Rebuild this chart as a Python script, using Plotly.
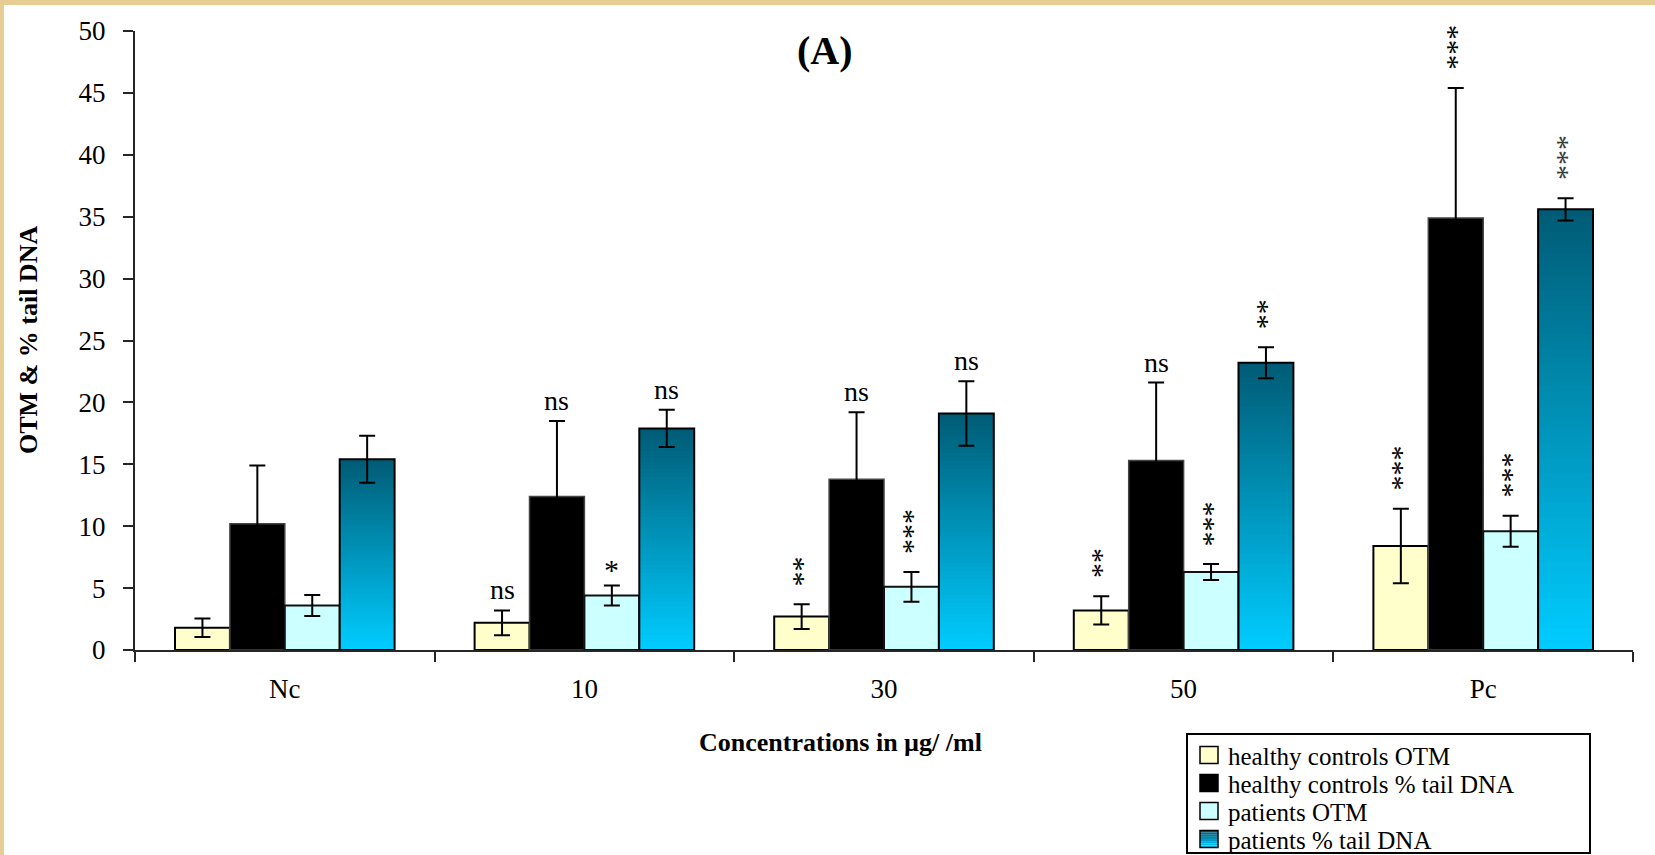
import plotly.graph_objects as go

# ---- data -------------------------------------------------------------
categories = ["Nc", "10", "30", "50", "Pc"]

series_names = [
    "healthy controls OTM",
    "healthy controls % tail DNA",
    "patients OTM",
    "patients % tail DNA",
]

healthy_otm = [1.8, 2.2, 2.7, 3.2, 8.4]
healthy_otm_err = [0.75, 1.0, 1.0, 1.15, 3.0]

healthy_tail = [10.2, 12.4, 13.8, 15.3, 34.9]
healthy_tail_err = [4.7, 6.1, 5.4, 6.3, 10.5]

patients_otm = [3.6, 4.4, 5.1, 6.3, 9.6]
patients_otm_err = [0.85, 0.8, 1.2, 0.65, 1.25]

patients_tail = [15.4, 17.9, 19.1, 23.2, 35.6]
patients_tail_err = [1.9, 1.5, 2.6, 1.25, 0.9]

sig_healthy_otm = ["", "ns", "**", "**", "***"]
sig_healthy_tail = ["", "ns", "ns", "ns", "***"]
sig_patients_otm = ["", "*", "***", "***", "***"]
sig_patients_tail = ["", "ns", "ns", "**", "***"]

# ---- page geometry ----------------------------------------------------
W, H = 1655, 855
ML, MR, MT, MB = 135, 22, 31, 205
PW, PH = W - ML - MR, H - MT - MB


def px(x):
    return (x - ML) / PW


def py(y):
    return (H - MB - y) / PH


SERIF = "Liberation Serif, Times New Roman, serif"
TOP_RGB = (0, 92, 118)
BOT_RGB = (0, 204, 255)


def mix(frac):
    r = [round(b + (t - b) * frac) for t, b in zip(TOP_RGB, BOT_RGB)]
    return f"rgb({r[0]},{r[1]},{r[2]})"


group_w = 0.733
bw = group_w / 4
offsets = [-group_w / 2 + i * bw for i in range(4)]

fig = go.Figure()

err_style = dict(type="data", color="#000000", thickness=2, width=8, visible=True)

fig.add_trace(go.Bar(
    x=categories, y=healthy_otm, width=bw, offset=offsets[0],
    marker=dict(color="#FFFFCC", line=dict(color="#000000", width=2)),
    error_y=dict(array=healthy_otm_err, **err_style),
    name=series_names[0], showlegend=False,
))
fig.add_trace(go.Bar(
    x=categories, y=healthy_tail, width=bw, offset=offsets[1],
    marker=dict(color="#000000", line=dict(color="#444444", width=1.5)),
    error_y=dict(array=healthy_tail_err, **err_style),
    name=series_names[1], showlegend=False,
))
fig.add_trace(go.Bar(
    x=categories, y=patients_otm, width=bw, offset=offsets[2],
    marker=dict(color="#CCFFFF", line=dict(color="#111111", width=2)),
    error_y=dict(array=patients_otm_err, **err_style),
    name=series_names[2], showlegend=False,
))

# vertical gradient fill for the patients % tail DNA bars, built from slices
N = 60
for k in range(N):
    frac = k / (N - 1)
    extra = 0.08 if k < N - 1 else 0.0
    fig.add_trace(go.Bar(
        x=categories,
        y=[v / N + extra for v in patients_tail],
        base=[v * k / N for v in patients_tail],
        width=bw, offset=offsets[3],
        marker=dict(color=mix(frac), line=dict(width=0)),
        hoverinfo="skip", showlegend=False,
    ))
fig.add_trace(go.Bar(
    x=categories, y=patients_tail, width=bw, offset=offsets[3],
    marker=dict(color="rgba(0,0,0,0)", line=dict(color="#000000", width=2)),
    error_y=dict(array=patients_tail_err, **err_style),
    name=series_names[3], showlegend=False,
))

# ---- significance marks -----------------------------------------------
annotations = []
sig_sets = [
    (healthy_otm, healthy_otm_err, sig_healthy_otm, offsets[0]),
    (healthy_tail, healthy_tail_err, sig_healthy_tail, offsets[1]),
    (patients_otm, patients_otm_err, sig_patients_otm, offsets[2]),
    (patients_tail, patients_tail_err, sig_patients_tail, offsets[3]),
]
for si, (vals, errs, sigs, off) in enumerate(sig_sets):
    for i, (v, e, s) in enumerate(zip(vals, errs, sigs)):
        if not s:
            continue
        xc = i + off + bw / 2
        # the positive-control marks on the last series are set in a lighter ink
        col = "#3a3a3a" if (si == 3 and i == len(vals) - 1) else "#000000"
        if s == "ns":
            annotations.append(dict(
                x=xc, y=v + e, xref="x", yref="y", text="ns", showarrow=False,
                yanchor="bottom", yshift=3,
                font=dict(family=SERIF, size=28, color=col),
            ))
        elif len(s) == 1:
            annotations.append(dict(
                x=xc, y=v + e, xref="x", yref="y", text=s, showarrow=False,
                yanchor="bottom", yshift=-2,
                font=dict(family=SERIF, size=30, color=col),
            ))
        else:
            annotations.append(dict(
                x=xc, y=v + e, xref="x", yref="y", text=s, showarrow=False,
                textangle=90, yanchor="bottom", yshift=16, xshift=-6,
                font=dict(family=SERIF, size=30, color=col),
            ))

# titles
annotations.append(dict(
    x=px(825), y=py(50), xref="paper", yref="paper", text="<b>(A)</b>",
    xanchor="center", yanchor="middle", showarrow=False,
    font=dict(family=SERIF, size=40, color="#000000"),
))
annotations.append(dict(
    x=px(840), y=py(742), xref="paper", yref="paper",
    text="<b>Concentrations in µg/ /ml</b>", showarrow=False,
    xanchor="center", yanchor="middle",
    font=dict(family=SERIF, size=26, color="#000000"),
))
annotations.append(dict(
    x=px(28), y=py(340), xref="paper", yref="paper",
    text="<b>OTM &amp; % tail DNA</b>", showarrow=False, textangle=-90,
    xanchor="center", yanchor="middle",
    font=dict(family=SERIF, size=26, color="#000000"),
))

# ---- shapes: page frame and legend box --------------------------------
shapes = [
    dict(type="rect", xref="paper", yref="paper", layer="below",
         x0=px(4), x1=px(W + 5), y0=py(H + 5), y1=py(5),
         fillcolor="#FFFFFF", line=dict(width=0)),
    dict(type="rect", xref="paper", yref="paper",
         x0=px(1187), x1=px(1590), y0=py(853), y1=py(734),
         fillcolor="#FFFFFF", line=dict(color="#000000", width=2)),
]

legend_fills = ["#FFFFCC", "#000000", "#CCFFFF", None]
row_y = [755, 783, 811, 839]
for name, fill, ry in zip(series_names, legend_fills, row_y):
    sx0, sx1, sy0, sy1 = 1200, 1218, ry - 8.5, ry + 8.5
    if fill is None:
        steps = 8
        for k in range(steps):
            a = sy0 + (sy1 - sy0) * k / steps
            b = sy0 + (sy1 - sy0) * (k + 1) / steps
            shapes.append(dict(
                type="rect", xref="paper", yref="paper",
                x0=px(sx0), x1=px(sx1), y0=py(b), y1=py(a),
                fillcolor=mix(1 - k / (steps - 1)), line=dict(width=0)))
        fill = "rgba(0,0,0,0)"
    shapes.append(dict(
        type="rect", xref="paper", yref="paper",
        x0=px(sx0), x1=px(sx1), y0=py(sy1), y1=py(sy0),
        fillcolor=fill, line=dict(color="#000000", width=1.5)))
    annotations.append(dict(
        x=px(1226), y=py(ry + 1), xref="paper", yref="paper", text=name,
        showarrow=False, xanchor="left", yanchor="middle",
        font=dict(family=SERIF, size=25, color="#000000"),
    ))

fig.update_layout(
    width=W, height=H,
    margin=dict(l=ML, r=MR, t=MT, b=MB, pad=0),
    paper_bgcolor="#E7CC93",
    plot_bgcolor="#FFFFFF",
    barmode="overlay",
    showlegend=False,
    annotations=annotations,
    shapes=shapes,
    xaxis=dict(
        type="category", range=[-0.5, 4.5], tickson="boundaries",
        showline=True, linecolor="#262626", linewidth=2,
        ticks="outside", ticklen=10, tickwidth=2, tickcolor="#262626",
        showgrid=False, zeroline=False, ticklabelstandoff=14,
        tickfont=dict(family=SERIF, size=27, color="#000000"),
    ),
    yaxis=dict(
        range=[0, 50], dtick=5, tick0=0,
        showline=True, linecolor="#262626", linewidth=2,
        ticks="outside", ticklen=10, tickwidth=2, tickcolor="#262626",
        showgrid=False, zeroline=False, ticklabelstandoff=12,
        tickfont=dict(family=SERIF, size=27, color="#000000"),
    ),
)

fig.write_html("out.html")
